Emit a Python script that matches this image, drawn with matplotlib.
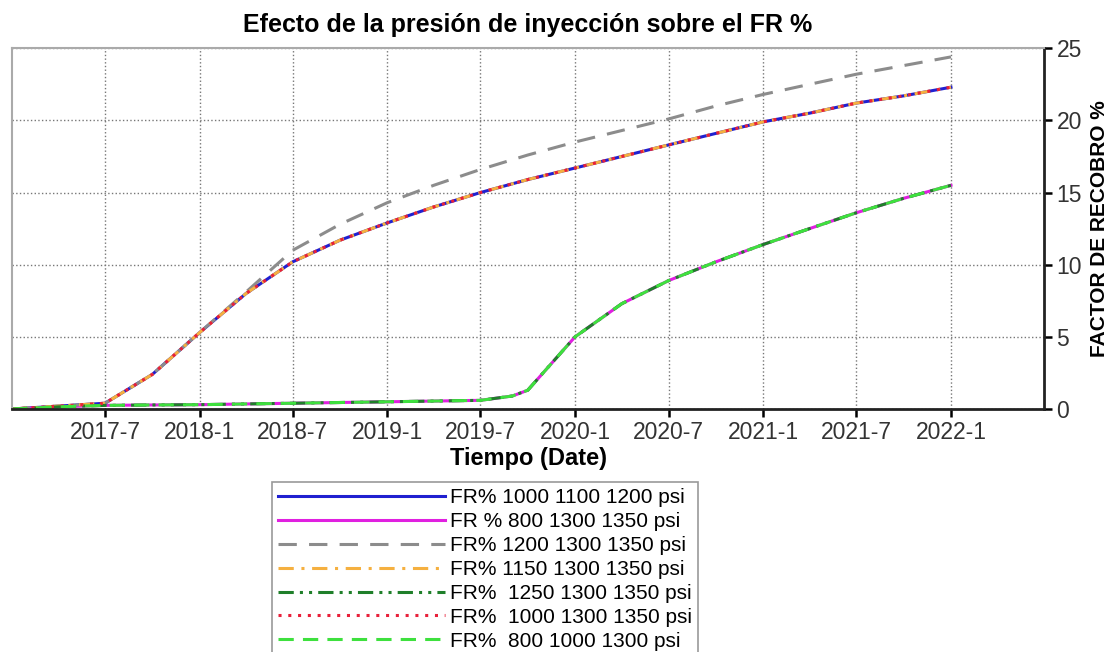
import matplotlib
matplotlib.use("Agg")
import matplotlib.pyplot as plt
import pandas as pd

plt.rcParams['font.family'] = ['Liberation Sans', 'DejaVu Sans']

# ---- data ----
dates_a = ["2017-01", "2017-04", "2017-07", "2017-10", "2018-01", "2018-04", "2018-07",
           "2018-10", "2019-01", "2019-04", "2019-07", "2019-10", "2020-01", "2020-04",
           "2020-07", "2020-10", "2021-01", "2021-04", "2021-07", "2021-10", "2022-01"]
fr_group_a = [0.0, 0.2, 0.4, 2.4, 5.3, 8.0, 10.2, 11.7, 12.9, 14.0, 15.0, 15.9, 16.7,
              17.5, 18.3, 19.1, 19.9, 20.5, 21.2, 21.7, 22.3]
fr_gray = [0.0, 0.2, 0.4, 2.4, 5.3, 8.1, 11.0, 12.8, 14.3, 15.5, 16.6, 17.6, 18.5,
           19.3, 20.1, 21.0, 21.8, 22.5, 23.2, 23.8, 24.4]

dates_b = ["2017-01", "2017-04", "2017-07", "2017-10", "2018-01", "2018-07", "2019-01",
           "2019-07", "2019-09", "2019-10", "2020-01", "2020-04", "2020-07", "2020-10",
           "2021-01", "2021-04", "2021-07", "2021-10", "2022-01"]
fr_group_b = [0.0, 0.15, 0.25, 0.28, 0.3, 0.4, 0.5, 0.6, 0.9, 1.3, 5.0, 7.3, 8.9,
              10.2, 11.4, 12.5, 13.6, 14.6, 15.5]

labels = ["FR% 1000 1100 1200 psi", "FR % 800 1300 1350 psi", "FR% 1200 1300 1350 psi",
          "FR% 1150 1300 1350 psi", "FR%  1250 1300 1350 psi", "FR%  1000 1300 1350 psi",
          "FR%  800 1000 1300 psi"]

tick_dates = ["2017-07", "2018-01", "2018-07", "2019-01", "2019-07", "2020-01",
              "2020-07", "2021-01", "2021-07", "2022-01"]
tick_labels = ["2017-7", "2018-1", "2018-7", "2019-1", "2019-7", "2020-1",
               "2020-7", "2021-1", "2021-7", "2022-1"]
y_ticks = [0, 5, 10, 15, 20, 25]

xa = pd.to_datetime(dates_a)
xb = pd.to_datetime(dates_b)

fig = plt.figure(figsize=(11.19, 6.52), dpi=100)
ax = fig.add_axes([0.0107, 0.3727, 0.9223, 0.5533])

h1, = ax.plot(xa, fr_group_a, color='#2020d0', lw=2.2, ls='-')
h2, = ax.plot(xb, fr_group_b, color='#e020e0', lw=2.2, ls='-')
h3, = ax.plot(xa, fr_gray, color='#8c8c8c', lw=2.2, ls=(0, (6, 4)))
h4, = ax.plot(xa, fr_group_a, color='#f5b040', lw=2.2, ls=(0, (5, 2.5, 1, 2.5)))
h5, = ax.plot(xb, fr_group_b, color='#1f7f2a', lw=2.2, ls=(0, (5, 2, 1, 2, 1, 2)))
h6, = ax.plot(xa, fr_group_a, color='#e8203a', lw=2.2, ls=(0, (1, 2.2)))
h7, = ax.plot(xb, fr_group_b, color='#3ee03e', lw=2.2, ls=(0, (5, 3)))

ax.set_xlim(pd.Timestamp("2017-01-01"), pd.Timestamp("2022-07-01"))
ax.set_ylim(0, 25)

ax.set_xticks(pd.to_datetime(tick_dates))
ax.set_xticklabels(tick_labels)
ax.yaxis.tick_right()
ax.yaxis.set_label_position('right')
ax.set_yticks(y_ticks)
ax.tick_params(axis='both', labelsize=16.5, length=6, width=1.8,
               direction='out', pad=3, colors='black', labelcolor='#333333')

ax.grid(True, ls=':', color='#777777', lw=1.0)

for side in ['top', 'left']:
    ax.spines[side].set_color('#aaaaaa')
    ax.spines[side].set_linewidth(1.5)
for side in ['bottom', 'right']:
    ax.spines[side].set_color('#222222')
    ax.spines[side].set_linewidth(2.0)

ax.set_title("Efecto de la presión de inyección sobre el FR %", fontsize=18,
             fontweight='bold', pad=12)
ax.set_xlabel("Tiempo (Date)", fontsize=17, fontweight='bold', labelpad=2)
ax.set_ylabel("FACTOR DE RECOBRO %", fontsize=15, fontweight='bold', labelpad=6)

leg = fig.legend([h1, h2, h3, h4, h5, h6, h7], labels, loc='upper left',
                 bbox_to_anchor=(272 / 1119, 1 - 482 / 652), fontsize=15,
                 handlelength=8.0, handletextpad=0.25, labelspacing=0.235,
                 borderpad=0.3, fancybox=False, frameon=True, framealpha=1,
                 edgecolor='#999999', borderaxespad=0)
leg.get_frame().set_linewidth(1.2)

fig.savefig("out.png", dpi=100)
